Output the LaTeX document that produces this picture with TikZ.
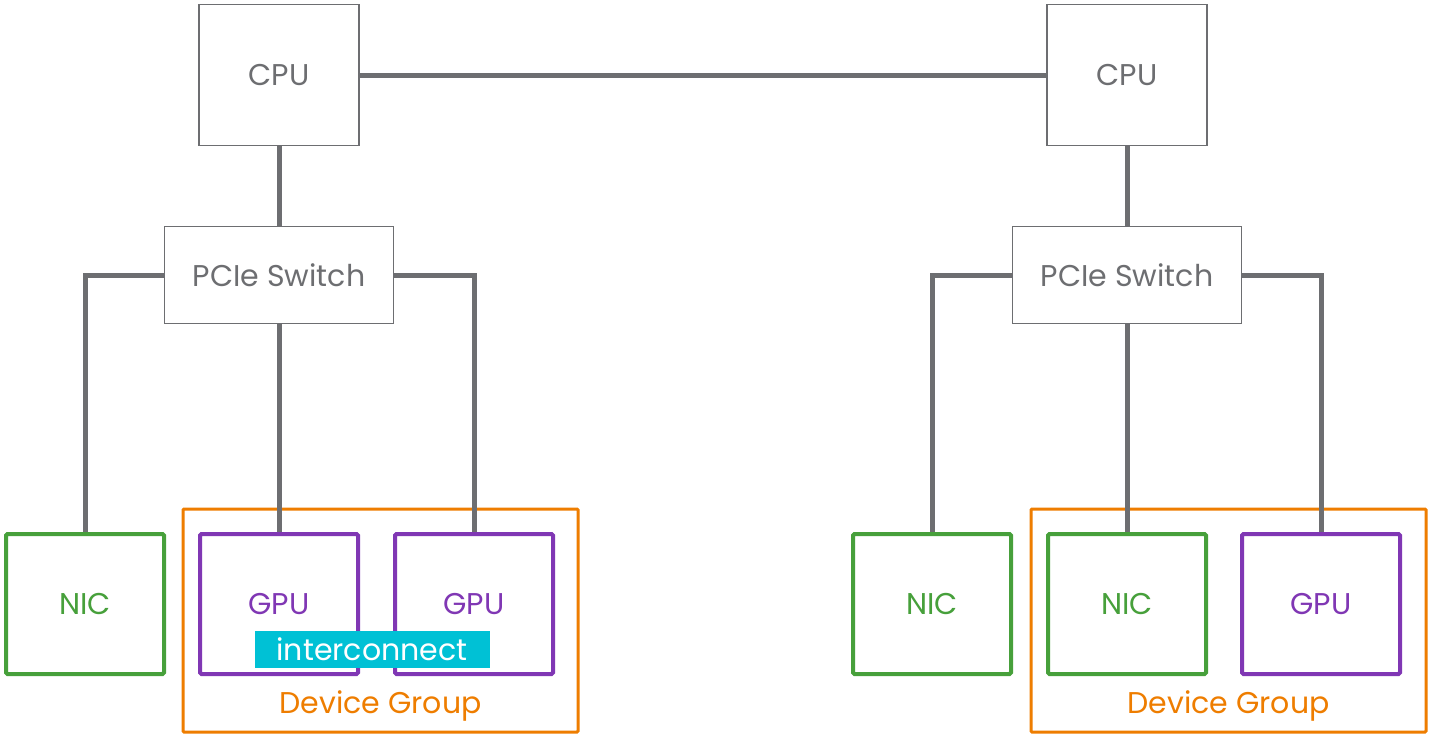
\documentclass[tikz,border=0pt]{standalone}
\usepackage{fontspec}
\setmainfont{Poppins}
\definecolor{cgray}{HTML}{6D6E71}
\definecolor{cgreen}{HTML}{47A03B}
\definecolor{cpurple}{HTML}{8037B4}
\definecolor{corange}{HTML}{EE7D00}
\definecolor{ccyan}{HTML}{00C1D5}
\tikzset{
  txt/.style={font=\fontsize{30}{33}\selectfont},
  hostbox/.style={txt, draw=cgray, line width=1.5pt, fill=white, text=cgray, inner sep=0pt},
  nicbox/.style={txt, draw=cgreen, line width=4pt, rounded corners=1.5pt, fill=white, text=cgreen, minimum width=158pt, minimum height=140pt, inner sep=0pt},
  gpubox/.style={txt, draw=cpurple, line width=4pt, rounded corners=1.5pt, fill=white, text=cpurple, minimum width=158pt, minimum height=140pt, inner sep=0pt},
  groupbox/.style={draw=corange, line width=3pt, rounded corners=1pt, minimum width=395pt, minimum height=223pt, inner sep=0pt},
  grouplabel/.style={txt, text=corange},
  link/.style={draw=cgray, line width=5pt},
  tag/.style={txt, fill=ccyan, text=white, minimum width=235pt, minimum height=37pt, inner sep=0pt}
}
\begin{document}
\begin{tikzpicture}[x=1pt,y=-1pt]
\useasboundingbox (0,0) rectangle (1431,744);
% device groups
\node[groupbox] (dg1) at (380.5,620.5) {};
\node[groupbox] (dg2) at (1228.5,620.5) {};
\node[grouplabel] (dgl1) at (380.5,706) {Device Group};
\node[grouplabel] (dgl2) at (1228.5,706) {Device Group};
% hosts
\node[hostbox, minimum width=160pt, minimum height=141pt] (cpu1) at (279,75) {CPU};
\node[hostbox, minimum width=160pt, minimum height=141pt] (cpu2) at (1127,75) {CPU};
\node[hostbox, minimum width=229pt, minimum height=97pt] (sw1) at (279,275) {PCIe Switch};
\node[hostbox, minimum width=229pt, minimum height=97pt] (sw2) at (1127,275) {PCIe Switch};
% devices
\node[nicbox] (nic1) at (85,604) {NIC};
\node[gpubox] (gpu1) at (279,604) {GPU};
\node[gpubox] (gpu2) at (474,604) {GPU};
\node[nicbox] (nic2) at (932,604) {NIC};
\node[nicbox] (nic3) at (1127,604) {NIC};
\node[gpubox] (gpu3) at (1321,604) {GPU};
% interconnect
\node[tag] (ic) at (372,649.5) {interconnect};
% connectors
\draw[link] (cpu1.east) -- (cpu2.west);
\draw[link] (cpu1.south) -- (sw1.north);
\draw[link] (cpu2.south) -- (sw2.north);
\draw[link] (sw1.west) -| (nic1.north);
\draw[link] (sw1.south) -- (gpu1.north);
\draw[link] (sw1.east) -| (gpu2.north);
\draw[link] (sw2.west) -| (nic2.north);
\draw[link] (sw2.south) -- (nic3.north);
\draw[link] (sw2.east) -| (gpu3.north);
\end{tikzpicture}
\end{document}
